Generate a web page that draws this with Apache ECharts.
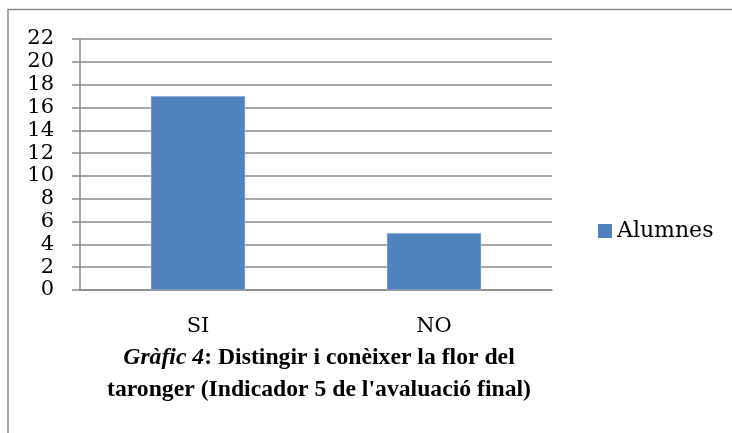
<!DOCTYPE html>
<html>
<head>
<meta charset="utf-8">
<script src="https://cdn.jsdelivr.net/npm/echarts@6/dist/echarts.min.js"></script>
<style>
  html, body { margin: 0; padding: 0; background: #fff; }
  #chart { width: 732px; height: 433px; }
</style>
</head>
<body>
<div id="chart"></div>
<script>
var categories = ['SI', 'NO'];
var alumnes = [17, 5];
var seriesName = 'Alumnes';
var titleItalic = 'Gràfic 4';
var titleLine1 = ': Distingir i conèixer la flor del';
var titleLine2 = "taronger (Indicador 5 de l'avaluació final)";

var chart = echarts.init(document.getElementById('chart'));
var labelFont = 'DejaVu Serif';
var gridColor = '#8a8a8a';

chart.setOption({
    animation: false,
    graphic: [{
        type: 'rect',
        shape: { x: 8, y: 9.5, width: 800, height: 500 },
        style: { fill: 'none', stroke: '#8c8c8c', lineWidth: 1.5 },
        silent: true
    }],
    title: {
        text: '{i|' + titleItalic + '}{b|' + titleLine1 + '}\n{b|' + titleLine2 + '}',
        left: 314,
        top: 337,
        textAlign: 'center',
        textStyle: {
            rich: {
                i: { fontFamily: 'Liberation Serif', fontSize: 23.7, fontWeight: 'bold', fontStyle: 'italic', color: '#000', lineHeight: 32 },
                b: { fontFamily: 'Liberation Serif', fontSize: 23.7, fontWeight: 'bold', color: '#000', lineHeight: 32 }
            }
        }
    },
    legend: {
        data: [seriesName],
        left: 593,
        top: 215,
        icon: 'rect',
        itemWidth: 14,
        itemHeight: 14,
        itemGap: 5,
        itemStyle: { borderWidth: 0 },
        textStyle: { fontFamily: labelFont, fontSize: 22, color: '#000' }
    },
    grid: { left: 80, right: 180, top: 39, bottom: 143 },
    xAxis: {
        type: 'category',
        data: categories,
        axisLine: { lineStyle: { color: gridColor, width: 1.5 } },
        axisTick: { length: 8, lineStyle: { color: gridColor, width: 1.5 } },
        axisLabel: { margin: 26, fontFamily: labelFont, fontSize: 21, color: '#000' }
    },
    yAxis: {
        type: 'value',
        min: 0,
        max: 22,
        interval: 2,
        axisLine: { show: true, lineStyle: { color: gridColor, width: 1.5 } },
        axisTick: { show: true, length: 8, lineStyle: { color: gridColor, width: 1.5 } },
        splitLine: { lineStyle: { color: gridColor, width: 1.5 } },
        axisLabel: { margin: 26, fontFamily: labelFont, fontSize: 21, color: '#000', lineHeight: 21 }
    },
    series: [{
        name: seriesName,
        type: 'bar',
        data: alumnes,
        barCategoryGap: '60%',
        itemStyle: { color: '#4f81bd', borderColor: '#b8cce4', borderWidth: 0.5 }
    }]
});
</script>
</body>
</html>
